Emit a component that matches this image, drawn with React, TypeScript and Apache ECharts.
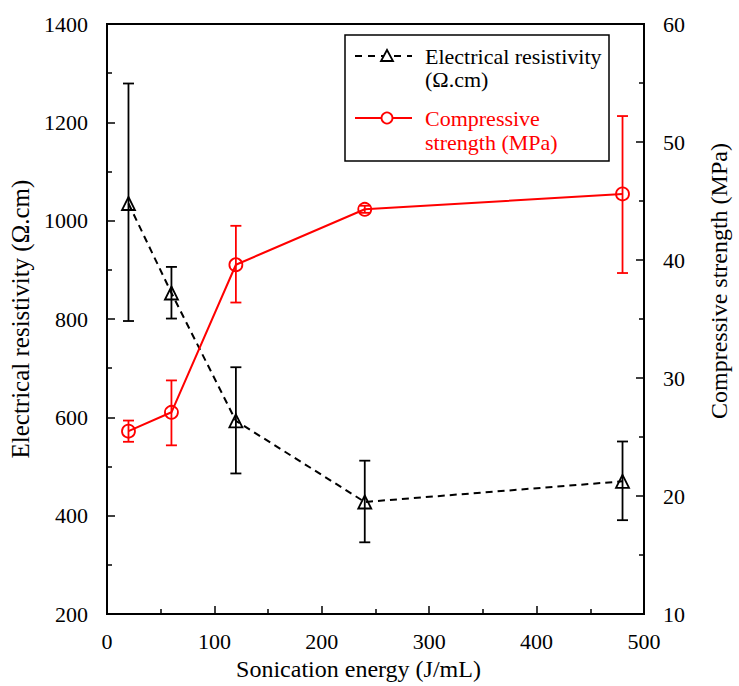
import React, { useEffect, useRef } from "react";
import * as echarts from "echarts";

const energy = [20, 60, 120, 240, 480];
const resistivity = [1035, 853, 593, 428, 470];
const resLow = [796, 801, 486, 346, 391];
const resHigh = [1279, 906, 702, 512, 551];
const strength = [25.5, 27.1, 39.6, 44.3, 45.6];
const strLow = [24.6, 24.3, 36.4, 44.0, 38.9];
const strHigh = [26.4, 29.8, 42.9, 44.6, 52.2];

const xTitle = "Sonication energy (J/mL)";
const yLeftTitle = "Electrical resistivity (Ω.cm)";
const yRightTitle = "Compressive strength (MPa)";
const legendRes = ["Electrical resistivity", "(Ω.cm)"];
const legendStr = ["Compressive", "strength (MPa)"];

const FONT = "Liberation Serif";
const RED = "#ff0000";

function errorBars(color: string, lows: number[], highs: number[], yAxisIndex: number) {
  return {
    type: "custom",
    xAxisIndex: 0,
    yAxisIndex,
    z: 3,
    data: energy.map((x, i) => [x, lows[i], highs[i]]),
    encode: { x: 0, y: [1, 2] },
    renderItem: (params: any, api: any) => {
      const x = api.value(0);
      const lo = api.coord([x, api.value(1)]);
      const hi = api.coord([x, api.value(2)]);
      const w = 5.5;
      const style = { stroke: color, lineWidth: 1.8 };
      return {
        type: "group",
        children: [
          { type: "line", shape: { x1: lo[0], y1: lo[1], x2: hi[0], y2: hi[1] }, style },
          { type: "line", shape: { x1: hi[0] - w, y1: hi[1], x2: hi[0] + w, y2: hi[1] }, style },
          { type: "line", shape: { x1: lo[0] - w, y1: lo[1], x2: lo[0] + w, y2: lo[1] }, style },
        ],
      };
    },
  };
}

export default function App() {
  const ref = useRef<HTMLDivElement>(null);
  useEffect(() => {
    if (!ref.current) return;
    const chart = echarts.init(ref.current, undefined, { renderer: "svg" });
    const axisLine = { show: true, lineStyle: { color: "#000", width: 2 } };
    const axisTick = { show: true, inside: true, length: 8, lineStyle: { color: "#000", width: 1.5 } };
    const minorTick = { show: true, splitNumber: 2, length: 5, lineStyle: { color: "#000", width: 1.5 } };
    const label = (margin: number) => ({
      color: "#000",
      fontSize: 22,
      fontFamily: FONT,
      margin,
      formatter: (v: number) => String(v),
    });
    const legendText = (text: string, y: number, fill: string) => ({
      type: "text",
      x: 425,
      y,
      style: { text, font: "22px Liberation Serif", fill, verticalAlign: "middle" },
    });
    chart.setOption({
      animation: false,
      textStyle: { fontFamily: FONT, color: "#000" },
      grid: {
        left: 107,
        right: 86,
        top: 24,
        bottom: 64,
        show: true,
        borderColor: "#000",
        borderWidth: 2,
        backgroundColor: "transparent",
      },
      xAxis: {
        type: "value",
        min: 0,
        max: 500,
        interval: 100,
        name: xTitle,
        nameLocation: "middle",
        nameGap: 38,
        axisLine,
        axisTick,
        minorTick,
        splitLine: { show: false },
        axisLabel: label(16),
        nameTextStyle: { color: "#000", fontSize: 24, fontFamily: FONT, padding: [0, 34, 0, 0] },
      },
      yAxis: [
        {
          type: "value",
          min: 200,
          max: 1400,
          interval: 200,
          position: "left",
          name: yLeftTitle,
          nameLocation: "middle",
          nameGap: 67,
          nameRotate: 90,
          axisLine,
          axisTick,
          minorTick,
          splitLine: { show: false },
          axisLabel: label(19),
          nameTextStyle: { color: "#000000", fontSize: 25, fontFamily: FONT },
        },
        {
          type: "value",
          min: 10,
          max: 60,
          interval: 10,
          position: "right",
          name: yRightTitle,
          nameLocation: "middle",
          nameGap: 63,
          nameRotate: 90,
          axisLine,
          axisTick,
          minorTick,
          splitLine: { show: false },
          axisLabel: label(19),
          nameTextStyle: { color: "#000", fontSize: 24, fontFamily: FONT, padding: [0, 0, 0, 76] },
        },
      ],
      series: [
        errorBars("#000", resLow, resHigh, 0),
        errorBars(RED, strLow, strHigh, 1),
        {
          type: "line",
          name: "Electrical resistivity (Ω.cm)",
          xAxisIndex: 0,
          yAxisIndex: 0,
          z: 4,
          data: energy.map((x, i) => [x, resistivity[i]]),
          symbol: "triangle",
          symbolSize: 13,
          showSymbol: true,
          lineStyle: { color: "#000", width: 2, type: [7, 5] },
          itemStyle: { color: "rgba(0,0,0,0)", borderColor: "#000", borderWidth: 1.8 },
        },
        {
          type: "line",
          name: "Compressive strength (MPa)",
          xAxisIndex: 0,
          yAxisIndex: 1,
          z: 4,
          data: energy.map((x, i) => [x, strength[i]]),
          symbol: "circle",
          symbolSize: 13,
          showSymbol: true,
          lineStyle: { color: RED, width: 2 },
          itemStyle: { color: "rgba(0,0,0,0)", borderColor: RED, borderWidth: 1.8 },
        },
      ],
      graphic: [
        {
          type: "group",
          z: 100,
          children: [
            {
              type: "rect",
              shape: { x: 345, y: 35, width: 264, height: 126 },
              style: { fill: "#fff", stroke: "#000", lineWidth: 1.5 },
            },
            {
              type: "line",
              shape: { x1: 355, y1: 56, x2: 412, y2: 56 },
              style: { stroke: "#000", lineWidth: 2, lineDash: [7, 6] },
            },
            {
              type: "polygon",
              shape: { points: [[381, 61], [393, 61], [387, 50]] },
              style: { fill: "#fff", stroke: "#000", lineWidth: 1.8 },
            },
            {
              type: "line",
              shape: { x1: 355, y1: 118, x2: 412, y2: 118 },
              style: { stroke: RED, lineWidth: 2 },
            },
            {
              type: "circle",
              shape: { cx: 387, cy: 118, r: 5.5 },
              style: { fill: "#fff", stroke: RED, lineWidth: 1.8 },
            },
            legendText(legendRes[0], 56, "#000"),
            legendText(legendRes[1], 79, "#000"),
            legendText(legendStr[0], 118, RED),
            legendText(legendStr[1], 142, RED),
          ],
        },
      ],
    });
    return () => chart.dispose();
  }, []);
  return (
    <div
      ref={ref}
      style={{ position: "fixed", left: 0, top: 0, width: 739, height: 686, background: "#fff" }}
    />
  );
}
